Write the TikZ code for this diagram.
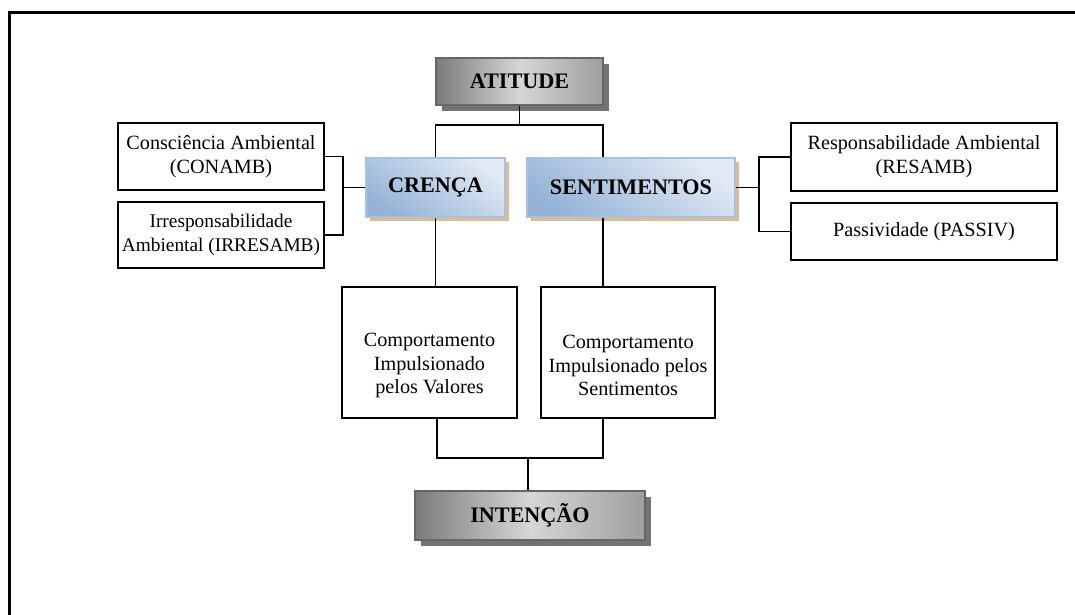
\documentclass[tikz,border=0pt]{standalone}
\usepackage{fontspec}
\setmainfont{Liberation Serif}
\usetikzlibrary{shadows}
\definecolor{bluedark}{HTML}{95B3D7}
\definecolor{bluelight}{HTML}{E2EAF4}
\definecolor{blueedge}{HTML}{A9C1DF}
\definecolor{tanshadow}{HTML}{D8BE98}
\newcommand{\boldlbl}{\fontsize{12.6}{13.6}\selectfont\bfseries}
\tikzset{
  plainbox/.style={draw, line width=1.1pt, align=center, inner xsep=0pt, inner ysep=2pt},
  greybox/.style={draw=black!60, line width=0.6pt, font=\boldlbl,
    left color=black!52, right color=black!38, middle color=black!16,
    drop shadow={shadow xshift=0.12cm, shadow yshift=-0.12cm, fill=black!55, opacity=1}},
  bluebox/.style={draw=blueedge, line width=1pt, font=\boldlbl,
    top color=bluelight, bottom color=bluedark, shading angle=-35,
    drop shadow={shadow xshift=0.08cm, shadow yshift=-0.08cm, fill=tanshadow, opacity=1}},
  link/.style={line width=1.1pt},
  boxtext/.style={align=center}
}
\begin{document}
\begin{tikzpicture}[font=\fontsize{11.5}{13.6}\selectfont]
\useasboundingbox (0,0) rectangle (21.5,-12.3);
% frame
\draw[line width=1.7pt] (0.19,-12.4) -- (0.19,-0.25) -- (21.6,-0.25);

% main boxes
\node[greybox, minimum width=3.34cm, minimum height=0.94cm] (atitude) at (10.39,-1.63) {ATITUDE};
\node[bluebox, minimum width=2.78cm, minimum height=1.18cm] (crenca) at (8.71,-3.75) {CRENÇA};
\node[bluebox, minimum width=4.16cm, minimum height=1.18cm] (sentimentos) at (12.62,-3.75) {SENTIMENTOS};
\node[greybox, minimum width=4.6cm, minimum height=0.98cm] (intencao) at (10.6,-10.31) {INTENÇÃO};

% side boxes
\node[plainbox, minimum width=4.12cm, minimum height=1.34cm] (conamb) at (4.42,-3.13) {Consciência Ambiental\\(CONAMB)};
\node[plainbox, minimum width=4.12cm, minimum height=1.32cm, font=\fontsize{11}{13.6}\selectfont] (irresamb) at (4.42,-4.70) {Irresponsabilidade\\Ambiental (IRRESAMB)};
\node[plainbox, minimum width=5.32cm, minimum height=1.36cm] (resamb) at (18.48,-3.14) {Responsabilidade Ambiental\\(RESAMB)};
\node[plainbox, minimum width=5.32cm, minimum height=1.14cm] (passiv) at (18.48,-4.63) {Passividade (PASSIV)};

% behaviour boxes
\node[plainbox, minimum width=3.5cm, minimum height=2.62cm,
  label={[boxtext, yshift=-0.26cm]center:{Comportamento\\Impulsionado\\pelos Valores}}] (valores) at (8.59,-7.05) {};
\node[plainbox, minimum width=3.48cm, minimum height=2.62cm,
  label={[boxtext, yshift=-0.26cm]center:{Comportamento\\Impulsionado pelos\\Sentimentos}}] (sentcomp) at (12.56,-7.05) {};

% connectors
\coordinate (topbar) at (10.39,-2.5);
\coordinate (lbar) at (6.86,-3.75);
\coordinate (rbar) at (15.18,-3.75);
\coordinate (botbar) at (10.56,-9.16);
\draw[link] (atitude) -- (topbar);
\draw[link] (crenca.north) |- (topbar) -| ([xshift=-5.6mm]sentimentos.north);
\draw[link] (crenca) -- (lbar);
\draw[link] (conamb.east) -| (lbar) |- (irresamb.east);
\draw[link] (sentimentos) -- (rbar);
\draw[link] (resamb.west) -| (rbar) |- (passiv.west);
\draw[link] (crenca.south) -- (crenca.south |- valores.north);
\draw[link] ([xshift=-5.6mm]sentimentos.south) -- ([xshift=-5.6mm]sentimentos.south |- sentcomp.north);
\draw[link] ([xshift=1.5mm]valores.south) |- (botbar) -| ([xshift=-5mm]sentcomp.south);
\draw[link] (botbar) -- (botbar |- intencao.north);
\end{tikzpicture}
\end{document}
